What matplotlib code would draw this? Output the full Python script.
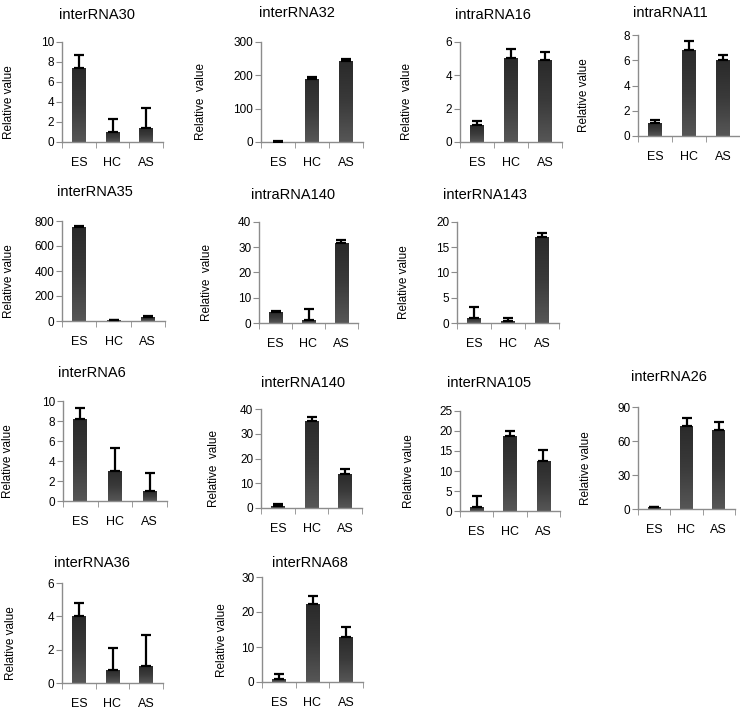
import matplotlib
matplotlib.use('Agg')
import matplotlib.pyplot as plt
from matplotlib.colors import LinearSegmentedColormap
import numpy as np

plt.rcParams['font.family'] = ['Liberation Sans', 'DejaVu Sans']

# 데이터
groups = ['ES', 'HC', 'AS']
titles = ['interRNA30', 'interRNA32', 'intraRNA16', 'intraRNA11',
          'interRNA35', 'intraRNA140', 'interRNA143',
          'interRNA6', 'interRNA140', 'interRNA105', 'interRNA26',
          'interRNA36', 'interRNA68']
ylabels = ['Relative value', 'Relative  value', 'Relative  value', 'Relative value',
           'Relative value', 'Relative  value', 'Relative value',
           'Relative value', 'Relative  value', 'Relative value', 'Relative value',
           'Relative value', 'Relative value']
means = [[7.4, 1.0, 1.4], [1.0, 190, 243], [1.0, 5.05, 4.9], [1.0, 6.85, 6.0],
         [755, 5, 30], [4.2, 1.0, 31.5], [1.0, 0.3, 17.0],
         [8.2, 3.0, 1.0], [0.8, 35.2, 13.6], [1.0, 18.8, 12.5], [1.5, 73.5, 69.5],
         [4.0, 0.8, 1.0], [0.9, 22.2, 13.0]]
errs = [[1.3, 1.3, 2.05], [1.0, 6, 7], [0.25, 0.55, 0.5], [0.3, 0.7, 0.4],
        [7, 1, 8], [0.6, 4.5, 1.5], [2.2, 0.7, 0.9],
        [1.1, 2.3, 1.85], [0.8, 1.7, 2.3], [2.8, 1.1, 2.7], [0.7, 7.0, 7.5],
        [0.8, 1.3, 1.9], [1.3, 2.4, 2.8]]
ymaxes = [10, 300, 6, 8, 800, 40, 20, 10, 40, 25, 90, 6, 30]
ysteps = [2, 100, 2, 2, 200, 10, 5, 2, 10, 5, 30, 2, 10]

# 각 그래프의 위치 (픽셀): 축 왼쪽, 위, 오른쪽, 아래 / 제목 위치 / y라벨 x
boxes = [(62, 42, 163, 142), (261, 42, 363, 142), (460, 42, 562, 142), (638, 35, 740, 136),
         (62, 221, 165, 321), (259, 222, 358, 323), (457, 222, 559, 323),
         (63, 401, 167, 501), (261, 409, 362, 508), (460, 411, 560, 511), (638, 407, 735, 509),
         (62, 583, 163, 683), (262, 577, 363, 682)]
title_pos = [(97, 15), (297, 13), (493, 15), (670, 13),
             (95, 192), (293, 195), (485, 195),
             (92, 373), (303, 383), (489, 383), (669, 377),
             (92, 563), (310, 563)]
ylab_x = [15, 207, 413, 590, 15, 213, 410, 14, 220, 415, 592, 17, 228]

W, H = 740, 712
fig = plt.figure(figsize=(W / 100, H / 100), dpi=100)

bar_cmap = LinearSegmentedColormap.from_list('bar', ['#565656', '#3a3a3a', '#2a2a2a'])
grad = np.linspace(0, 1, 64).reshape(-1, 1)
x = np.arange(len(groups)) + 0.5

for i in range(len(titles)):
    x0, top, x1, base = boxes[i]
    ax = fig.add_axes([x0 / W, 1 - base / H, (x1 - x0) / W, (base - top) / H])

    bars = ax.bar(x, means[i], width=0.4, color='#3a3a3a', zorder=2)
    for b in bars:
        bx, by = b.get_x(), b.get_y()
        im = ax.imshow(grad, extent=[bx, bx + b.get_width(), by, by + b.get_height()],
                       cmap=bar_cmap, aspect='auto', origin='lower', zorder=2.5)
        im.set_clip_path(b)
    ax.errorbar(x, means[i], yerr=[[0, 0, 0], errs[i]], fmt='none',
                ecolor='black', elinewidth=1.6, capsize=3.5, capthick=1.6, zorder=3)

    ax.set_xlim(0, 3)
    ax.set_ylim(0, ymaxes[i])
    ax.set_yticks(np.arange(0, ymaxes[i] + 1e-9, ysteps[i]))
    ax.set_xticks(x)
    ax.set_xticklabels(groups)
    ax.set_xticks([0, 1, 2, 3], minor=True)
    ax.tick_params(axis='x', which='major', length=0, pad=11, labelsize=9)
    ax.tick_params(axis='x', which='minor', length=4, color='#8c8c8c', direction='out')
    ax.tick_params(axis='y', length=4, color='#8c8c8c', labelsize=8.5, pad=1.5)

    for s in ['top', 'right']:
        ax.spines[s].set_visible(False)
    for s in ['left', 'bottom']:
        ax.spines[s].set_color('#8c8c8c')
        ax.spines[s].set_linewidth(1)
    ax.patch.set_alpha(0)

    ax.set_ylabel(ylabels[i], fontsize=8.5)
    ax.yaxis.set_label_coords((ylab_x[i] - x0) / (x1 - x0), 0.4)

    tx, ty = title_pos[i]
    fig.text(tx / W, 1 - ty / H, titles[i], fontsize=10.5, ha='center', va='center')

fig.savefig('out.png', dpi=100)
